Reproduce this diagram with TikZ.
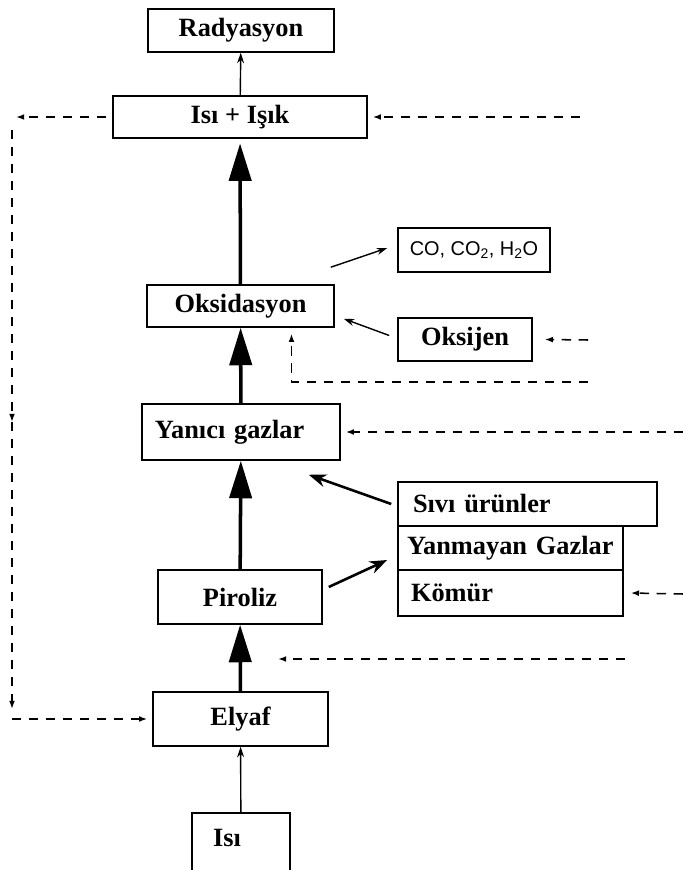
\documentclass[tikz,border=0pt]{standalone}
\usepackage{fontspec}
\setmainfont{Liberation Serif}
\newfontfamily\cofont{Liberation Sans}
\usetikzlibrary{
	arrows.meta,
	positioning
}

\tikzset{
	box/.style={draw,line width=1.3pt,inner sep=0pt,font=\fontsize{22.5}{26}\selectfont\bfseries},
	lbox/.style={box,align=left},
	thinarr/.style={line width=1.2pt,-{Stealth[length=9pt,width=6pt]}},
	bigarr/.style={line width=3pt,-{Triangle[length=32pt,width=19pt]}},
	midarr/.style={line width=2.2pt,-{Stealth[length=15pt,width=11pt]}},
	dasharr/.style={line width=1.3pt,dash pattern=on 8pt off 6.5pt,-{Latex[length=7pt,width=5pt]}},
	dashline/.style={line width=1.3pt,dash pattern=on 8pt off 6.5pt}
}

\begin{document}
\begin{tikzpicture}[x=0.03cm,y=-0.03cm]
		\useasboundingbox (0,0) rectangle (683,870);

		\draw
			(241,30.5)  node[box,minimum width=5.58cm,minimum height=1.29cm] (rad)  {Radyasyon}
			(240,117)   node[box,minimum width=7.62cm,minimum height=1.26cm] (heat) {Isı + Işık}
			(474,250)   node[box,minimum width=4.56cm,minimum height=1.32cm,
			                 font=\cofont\fontsize{17}{20}\selectfont]       (prod) {CO, CO\textsubscript{2}, H\textsubscript{2}O}
			(240.5,306) node[box,minimum width=5.61cm,minimum height=1.26cm] (oks)  {Oksidasyon}
			(465,339.5) node[box,minimum width=4.02cm,minimum height=1.29cm] (oxy)  {Oksijen}
			(241,432)   node[lbox,text width=5.16cm,inner xsep=0.39cm,minimum height=1.68cm] (fuel) {Yanıcı gazlar}
			(527.5,504) node[lbox,text width=6.87cm,inner xsep=0.45cm,minimum height=1.32cm] (liq)  {Sıvı ürünler}
			(510.5,548) node[lbox,text width=6.21cm,inner xsep=0.27cm,minimum height=1.32cm] (ngas) {Yanmayan Gazlar}
			(510.5,593) node[lbox,text width=5.97cm,inner xsep=0.39cm,minimum height=1.38cm] (char) {Kömür}
			(240,597)   node[box,minimum width=4.92cm,minimum height=1.62cm] (pyr)  {Piroliz}
			(240.5,719) node[box,minimum width=5.25cm,minimum height=1.62cm] (fib)  {Elyaf}
			(241,812)   node[lbox,anchor=north,text width=1.68cm,inner xsep=0.63cm,
			                 inner ysep=0.6cm,text height=0.4cm,text depth=1cm]  (src)  {Isı}
		;

		% main chain
		\draw
			(src)  edge[thinarr] (fib)
			(fib)  edge[bigarr]  (pyr)
			(pyr)  edge[bigarr]  (fuel)
			(fuel) edge[bigarr]  (oks)
			(oks)  edge[bigarr,shorten >=4pt] (heat)
			(heat) edge[thinarr] (rad)

			([shift={(-4,-17)}]oks.north east) edge[thinarr] ([shift={(-10,-2)}]prod.west)
			([shift={(-8,-4)}]oxy.west)        edge[thinarr] ([shift={(9,-9)}]oks.south east)
			([shift={(-6,0)}]liq.west)         edge[midarr]  ([shift={(-32,14)}]fuel.south east)
			([shift={(6,-10)}]pyr.east)        edge[midarr]  ([shift={(-10,12)}]ngas.west)
		;

		% feedback lines
		\coordinate (lt) at (16,117);
		\coordinate (lv) at (12,130);
		\coordinate (lm) at (12,422);
		\coordinate (lb) at (12,719);
		\coordinate (r1) at (580,117);
		\coordinate (r2) at (588,340);
		\coordinate (r3) at (588,382);
		\coordinate (r4) at (683,432);
		\coordinate (r5) at (683,594);
		\coordinate (r6) at (625,659);
		\coordinate (pin) at (278,659);

		\draw
			([shift={(-6,0)}]heat.west) edge[dasharr] (lt)
			(lv) edge[dasharr] (lm)
			(lm) edge[dasharr] ([shift={(0,-10)}]lb)
			(lb) edge[dasharr] ([shift={(-5,0)}]fib.west)
			(r1) edge[dasharr] ([shift={(5,0)}]heat.east)
			(r2) edge[dasharr] ([shift={(12,0)}]oxy.east)
			(r4) edge[dasharr] ([shift={(5,0)}]fuel.east)
			(r5) edge[dasharr] ([shift={(7,0)}]char.east)
			(r6) edge[dasharr] (pin)
		;
		\draw[dasharr] (r3) -| ([shift={(51,6)}]oks.south);
\end{tikzpicture}
\end{document}
